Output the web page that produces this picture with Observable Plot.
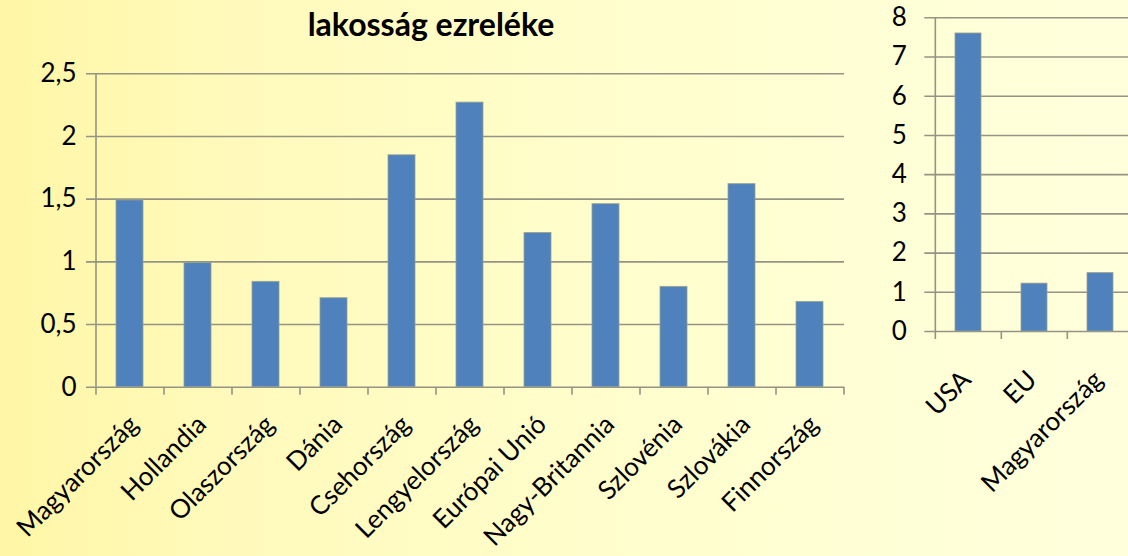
<!DOCTYPE html>
<html><head><meta charset="utf-8">
<script src="https://cdn.jsdelivr.net/npm/d3@7"></script>
<script src="https://cdn.jsdelivr.net/npm/@observablehq/plot@0.6"></script>
<style>
html,body{margin:0;padding:0;width:1128px;height:556px;overflow:hidden;}
body{position:relative;background:linear-gradient(to right,#FFF6A6 0%,#FFFABB 20%,#FFFDCA 50%,#FFFFD6 78%,#FFFFDC 100%);font-family:Lato,"Open Sans",sans-serif;}
#left{position:absolute;left:0;top:0;width:850px;}
#right{position:absolute;left:820px;top:0;width:320px;}
#title{position:absolute;left:0;width:862px;top:4px;text-align:center;font:bold 32px Lato,sans-serif;color:#000;}
svg{background:transparent !important;overflow:visible;max-width:none !important;}
</style></head>
<body>
<div id="title">lakosság ezreléke</div>
<div id="left"></div>
<div id="right"></div>
<script>
const countries = ["Magyarország","Hollandia","Olaszország","Dánia","Csehország","Lengyelország","Európai Unió","Nagy-Britannia","Szlovénia","Szlovákia","Finnország"];
const values = [1.49,0.99,0.84,0.71,1.85,2.27,1.23,1.46,0.80,1.62,0.68];
const leftTicks = [0,0.5,1,1.5,2,2.5];

const regions = ["USA","EU","Magyarország"];
const regionValues = [7.6,1.22,1.49];
const rightTicks = [0,1,2,3,4,5,6,7,8];

const barFill = "#4F81BD";
const gridColor = "#959484";
const fmt = d => String(d).replace(".", ",");

function panel(cats, vals, ticks, opts) {
  const data = cats.map((c,i)=>({c, v: vals[i]}));
  const step = (opts.width - opts.marginLeft - opts.marginRight) / cats.length;
  return Plot.plot({
    width: opts.width, height: 556,
    marginLeft: opts.marginLeft, marginRight: opts.marginRight,
    marginTop: opts.marginTop, marginBottom: opts.marginBottom,
    style: {fontFamily: "Lato, 'Open Sans', sans-serif", fontSize: "26px", color: "#000", background: "transparent", overflow: "visible", maxWidth: "none"},
    x: {domain: cats, paddingInner: 0.6, paddingOuter: 0.3, label: null},
    y: {domain: [0, ticks[ticks.length-1]], label: null},
    marks: [
      Plot.ruleY(ticks, {stroke: gridColor, strokeWidth: 1.6, insetLeft: -10}),
      Plot.ruleX([cats[0]], {dx: -step/2, y1: 0, y2: ticks[ticks.length-1], stroke: gridColor, strokeWidth: 1.6}),
      Plot.ruleX(cats, {dx: -step/2, y1: 0, y2: 0, insetBottom: -8, stroke: gridColor, strokeWidth: 1.6}),
      Plot.ruleX([cats[cats.length-1]], {dx: step/2, y1: 0, y2: 0, insetBottom: -8, stroke: gridColor, strokeWidth: 1.6}),
      Plot.barY(data, {x: "c", y: "v", fill: barFill, stroke: "#9aa08c", strokeWidth: 1, strokeOpacity: 0.8}),
      Plot.axisY({ticks, tickSize: 0, tickPadding: opts.yPad, tickFormat: fmt, fontSize: 26, fill: "#000"}),
      Plot.axisX({tickSize: 0, tickRotate: -45, tickPadding: opts.xPad, dx: opts.xdx, fontSize: 26, fill: "#000"})
    ]
  });
}

document.getElementById("left").append(panel(countries, values, leftTicks,
  {width: 850, marginLeft: 96, marginRight: 6, marginTop: 73.3, marginBottom: 169.3, yPad: 20, xPad: 33, xdx: 4}));
document.getElementById("right").append(panel(regions, regionValues, rightTicks,
  {width: 320, marginLeft: 114.3, marginRight: 6.7, marginTop: 17.3, marginBottom: 225, yPad: 28, xPad: 44, xdx: -2}));
</script>
</body></html>
